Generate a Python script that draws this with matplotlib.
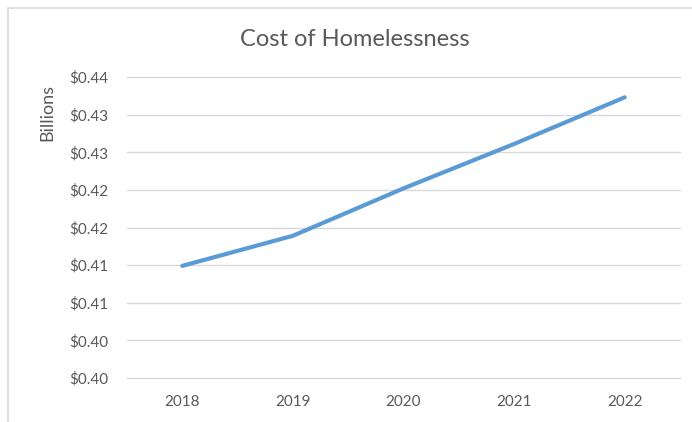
import matplotlib
matplotlib.use("Agg")
import matplotlib.pyplot as plt
from matplotlib.patches import Rectangle
from matplotlib.ticker import FixedLocator, FixedFormatter

years = ["2018", "2019", "2020", "2021", "2022"]
cost_billions = [0.4149, 0.4189, 0.4252, 0.4311, 0.4373]
y_ticks = [0.400, 0.405, 0.410, 0.415, 0.420, 0.425, 0.430, 0.435, 0.440]
y_tick_labels = ["$0.40", "$0.40", "$0.41", "$0.41", "$0.42", "$0.42", "$0.43", "$0.43", "$0.44"]

W, H = 692, 422
fig = plt.figure(figsize=(W / 100, H / 100), dpi=100)
plt.rcParams['font.family'] = ['Lato', 'DejaVu Sans']

# chart border
fig.patches.append(Rectangle((8 / W, -0.1), 1.2, (H - 8) / H + 0.1, transform=fig.transFigure,
                             fill=False, edgecolor="#D9D9D9", linewidth=1.2))

left, right, top, bottom = 127, 680, 77, 378
ax = fig.add_axes([left / W, 1 - bottom / H, (right - left) / W, (bottom - top) / H])

x = list(range(len(years)))
ax.plot(x, cost_billions, color="#5B9BD5", linewidth=3.0, solid_capstyle="round", zorder=3)

ax.set_xlim(-0.5, len(years) - 0.5)
ax.set_ylim(0.400, 0.440)
ax.set_xticks(x)
ax.set_xticklabels(years)
ax.yaxis.set_major_locator(FixedLocator(y_ticks))
ax.yaxis.set_major_formatter(FixedFormatter(y_tick_labels))

ax.grid(axis="y", color="#D9D9D9", linewidth=1.0)
for gl in ax.get_ygridlines():
    gl.set_clip_on(False)
ax.set_axisbelow(True)
for s in ax.spines.values():
    s.set_visible(False)
ax.tick_params(axis="both", length=0, colors="#595959", labelsize=11)
ax.tick_params(axis="x", pad=12)
ax.tick_params(axis="y", pad=13.5)

fig.text(355 / W, 1 - 40 / H, "Cost of Homelessness", ha="center", va="center",
         fontsize=17, color="#595959")
fig.text(47 / W, 1 - 112 / H, "Billions", ha="center", va="center", rotation=90,
         fontsize=13, color="#595959")

fig.savefig("out.png", dpi=100, facecolor="white")
